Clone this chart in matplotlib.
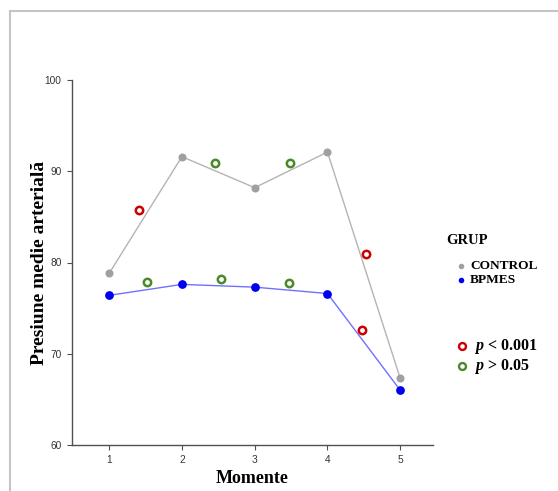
import matplotlib
matplotlib.use('Agg')
import matplotlib.pyplot as plt
from matplotlib.patches import Rectangle
from matplotlib.lines import Line2D

MOMENTS = [1, 2, 3, 4, 5]
CONTROL = [78.8, 91.6, 88.2, 92.1, 67.3]
BPMES = [76.4, 77.6, 77.3, 76.6, 66.0]

# significance markers (between moments)
P_LOW_X = [1.41, 4.53, 4.48]
P_LOW_Y = [85.7, 80.9, 72.6]
P_HIGH_X = [1.52, 2.46, 2.54, 3.49, 3.47]
P_HIGH_Y = [77.9, 90.9, 78.2, 90.9, 77.75]

Y_TICKS = [60, 70, 80, 90, 100]

GRAY = '#a0a0a0'
BLUE = '#0000f0'
RED = '#cc0000'
GREEN = '#4a8a2a'
SERIF = 'Liberation Serif'
SANS = 'Liberation Sans'

plt.rcParams['mathtext.fontset'] = 'custom'
plt.rcParams['mathtext.it'] = 'Liberation Serif:italic:bold'
plt.rcParams['mathtext.rm'] = 'Liberation Serif:bold'

fig = plt.figure(figsize=(5.58, 4.91), dpi=100)
fig.patches.append(Rectangle((10 / 558, -0.1), 1.2, 1 - 11 / 491 + 0.1,
                             transform=fig.transFigure, fill=False,
                             edgecolor='#c4c4c4', linewidth=1.5))

ax = fig.add_axes([72 / 558, 1 - 445 / 491, (433 - 72) / 558, (445 - 80) / 491])

ax.plot(MOMENTS, CONTROL, '-', color='#b4b4b4', lw=1.0, zorder=2)
ax.plot(MOMENTS, BPMES, '-', color='#7070ff', lw=1.0, zorder=2)
ax.plot(MOMENTS, CONTROL, 'o', color=GRAY, ms=5.8, mec='none', zorder=3)
ax.plot(MOMENTS, BPMES, 'o', color=BLUE, ms=6.3, mec='none', zorder=3)
ax.plot(P_LOW_X, P_LOW_Y, 'o', mfc='white', mec=RED, ms=5.3, mew=1.8, zorder=4)
ax.plot(P_HIGH_X, P_HIGH_Y, 'o', mfc='white', mec=GREEN, ms=5.3, mew=1.8, zorder=4)

ax.set_xlim(0.49, 5.45)
ax.set_ylim(60, 100)
ax.set_xticks(MOMENTS)
ax.set_yticks(Y_TICKS)
for s in ['top', 'right']:
    ax.spines[s].set_visible(False)
for s in ['left', 'bottom']:
    ax.spines[s].set_color('#505050')
    ax.spines[s].set_linewidth(1.0)
ax.tick_params(length=3.5, width=0.8, color='#505050', labelsize=7.3, labelcolor='#333333', pad=4)
for lbl in ax.get_xticklabels() + ax.get_yticklabels():
    lbl.set_fontfamily(SANS)

ax.set_xlabel('Momente', fontfamily=SERIF, fontweight='bold', fontsize=13, labelpad=3)
ax.set_ylabel('Presiune medie arterială', fontfamily=SERIF, fontweight='bold', fontsize=14, labelpad=-2.5)

# legend drawn manually
fig.text(446 / 558, 1 - 241 / 491, 'GRUP', fontfamily=SERIF, fontweight='bold', fontsize=10.5, va='center')
fig.add_artist(Line2D([461 / 558], [1 - 266 / 491], marker='o', color=GRAY, ms=4, mec='none'))
fig.text(470 / 558, 1 - 266 / 491, 'CONTROL', fontfamily=SERIF, fontweight='bold', fontsize=9.6, va='center')
fig.add_artist(Line2D([461 / 558], [1 - 280 / 491], marker='o', color=BLUE, ms=4, mec='none'))
fig.text(470 / 558, 1 - 280 / 491, 'BPMES', fontfamily=SERIF, fontweight='bold', fontsize=9.6, va='center')

fig.add_artist(Line2D([462 / 558], [1 - 346 / 491], marker='o', mfc='white', mec=RED, ms=5, mew=1.7))
fig.text(474 / 558, 1 - 346 / 491, r'$p$ < 0.001', fontfamily=SERIF, fontweight='bold',
         fontsize=11.5, va='center')
fig.add_artist(Line2D([462 / 558], [1 - 366 / 491], marker='o', mfc='white', mec=GREEN, ms=5, mew=1.7))
fig.text(474 / 558, 1 - 366 / 491, r'$p$ > 0.05', fontfamily=SERIF, fontweight='bold',
         fontsize=11.5, va='center')

fig.savefig('out.png', dpi=100)
